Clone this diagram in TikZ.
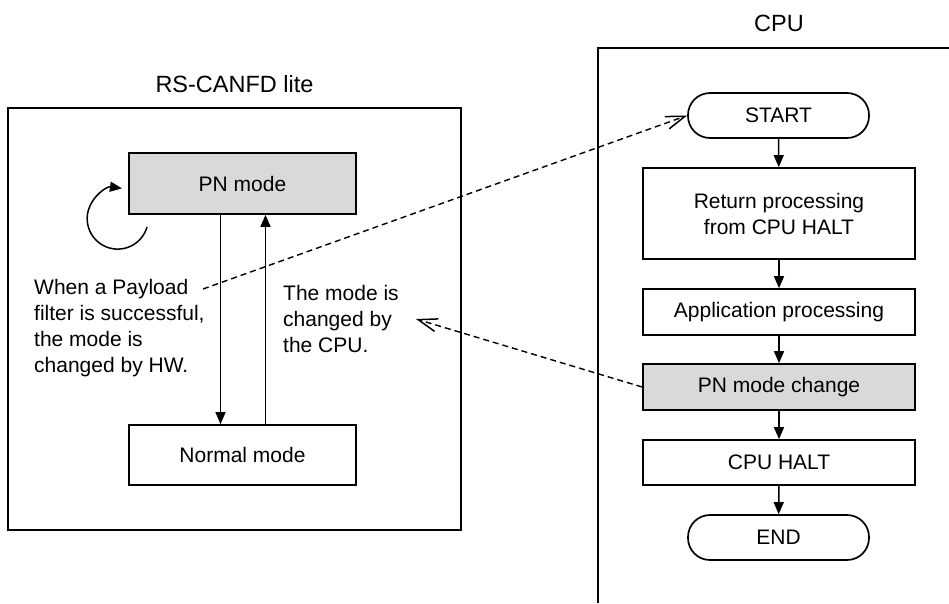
\documentclass[tikz,border=0pt]{standalone}
\usepackage{fontspec}
\setmainfont{Liberation Sans}
\usepackage{xcolor}
\definecolor{pngray}{HTML}{D9D9D9}
\usetikzlibrary{arrows.meta}
\tikzset{
  >={Triangle[length=12pt,width=10pt]},
  every picture/.style={line join=miter},
  boxlbl/.style={font=\fontsize{21}{26}\selectfont},
  titlelbl/.style={font=\fontsize{23.5}{28}\selectfont},
  frame/.style={line width=1.4pt},
  modebox/.style={draw, line width=1.7pt, boxlbl, inner sep=0pt, minimum width=227pt, minimum height=61pt},
  stepbox/.style={draw, line width=1.7pt, boxlbl, align=center, inner sep=0pt, minimum width=272pt, minimum height=46pt},
  termbox/.style={draw, line width=1.7pt, boxlbl, inner sep=0pt, rounded corners=22pt, minimum width=181pt, minimum height=45pt},
  flow/.style={line width=1.5pt, ->},
  hint/.style={line width=1.4pt, dash pattern=on 6pt off 4pt, -{Straight Barb[length=19pt,width=13pt,line width=1.5pt]}},
}

\begin{document}
\begin{tikzpicture}[x=1pt, y=-1pt]
\useasboundingbox (0,0) rectangle (949,603);
% RS-CANFD lite side
\node[titlelbl] (rstitle) at (234.5,84.5) {RS-CANFD lite};
\draw[frame] (8,108) rectangle (461,530);
\node[modebox, fill=pngray] (pn) at (242.5,183.5) {PN mode};
\node[modebox, minimum height=60pt] (normal) at (242.5,455) {Normal mode};
\draw[flow] ([xshift=-22pt]pn.south) -- ([xshift=-22pt]normal.north);
\draw[flow] ([xshift=23pt]normal.north) -- ([xshift=23pt]pn.south);
\coordinate (loopstart) at (147,227);
\draw[flow] (loopstart) arc[start angle=16, end angle=278, radius=30.5];
\node[boxlbl, align=left, anchor=north west, inner sep=0pt] (hwnote) at (34,279) {When a Payload\\filter is successful,\\the mode is\\changed by HW.};
\node[boxlbl, align=left, anchor=north west, inner sep=0pt] (cpunote) at (283,285) {The mode is\\changed by\\the CPU.};
% CPU side
\node[titlelbl] (cputitle) at (779,23.5) {CPU};
\draw[frame] (949,48) -- (598,48) -- (598,603);
\node[termbox] (start) at (778.5,115.5) {START};
\node[stepbox, minimum height=91pt] (ret) at (779,213.5) {Return processing\\from CPU HALT};
\node[stepbox] (app) at (779,312) {Application processing};
\node[stepbox, fill=pngray] (pnchg) at (779,387) {PN mode change};
\node[stepbox, minimum height=45pt] (halt) at (779,462.5) {CPU HALT};
\node[termbox] (endn) at (778.5,537.5) {END};
\foreach \a/\b in {start/ret, ret/app, app/pnchg, pnchg/halt, halt/endn}
  \draw[flow] (\a) -- (\b);
% links between the two sides
\coordinate (hwtail) at (203,289);
\coordinate (cputip) at (416,319);
\draw[hint] (hwtail) -- (start.west);
\draw[hint] (pnchg.west) -- (cputip);
\end{tikzpicture}
\end{document}
